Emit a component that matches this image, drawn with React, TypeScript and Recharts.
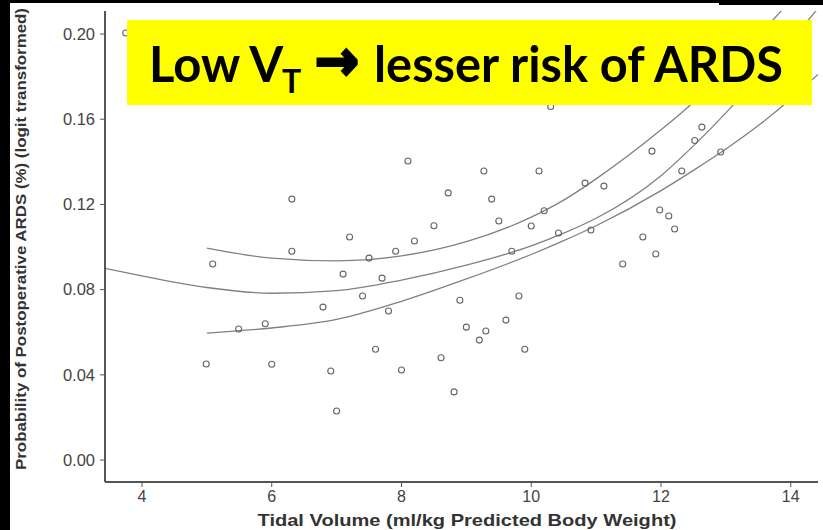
import { ComposedChart, XAxis, YAxis, Scatter, Line, Label } from 'recharts';

// observed patients: tidal volume (ml/kg PBW) and logit-transformed ARDS probability
const pointTv = [
  3.75, 4.99, 5.09, 5.49, 5.9, 6.0, 6.31, 6.31, 6.79, 6.91, 7.0, 7.1, 7.2, 7.4,
  7.5, 7.6, 7.7, 7.8, 7.91, 8.0, 8.1, 8.2, 8.5, 8.61, 8.72, 8.81, 8.9, 9.0, 9.2,
  9.3, 9.27, 9.39, 9.5, 9.61, 9.7, 9.81, 9.9, 10.0, 10.12, 10.2, 10.3, 10.42,
  10.83, 10.92, 11.12, 11.41, 11.72, 11.86, 11.92, 11.98, 12.12, 12.21, 12.32,
  12.52, 12.63, 12.92,
];
const pointProb = [
  0.2005, 0.0451, 0.092, 0.0615, 0.064, 0.045, 0.1225, 0.098, 0.0718, 0.0418,
  0.023, 0.0873, 0.1047, 0.077, 0.0948, 0.052, 0.0854, 0.07, 0.098, 0.0423,
  0.1404, 0.1028, 0.11, 0.048, 0.1254, 0.032, 0.075, 0.0624, 0.0563, 0.0606,
  0.1357, 0.1225, 0.1122, 0.0657, 0.098, 0.077, 0.052, 0.1099, 0.1357, 0.117,
  0.166, 0.1066, 0.13, 0.108, 0.1286, 0.092, 0.1047, 0.145, 0.0967, 0.1174,
  0.1146, 0.1085, 0.1357, 0.15, 0.1563, 0.1446,
];

// fitted curve
const fitTv = [3.43, 4, 5, 6, 7, 8, 9, 10, 10.5, 11, 12, 12.5, 13, 13.5, 14, 14.42];
const fitMid = [
  0.09, 0.0865, 0.081, 0.0783, 0.0795, 0.0845, 0.0915, 0.1005, 0.1065, 0.1135,
  0.1335, 0.1475, 0.163, 0.18, 0.197, 0.212,
];

// confidence band
const bandTv = [5, 6, 7, 8, 9, 10, 10.5, 11, 12, 12.5, 13, 13.5, 14, 14.42];
const bandUpper = [
  0.0995, 0.0948, 0.0935, 0.0958, 0.1025, 0.114, 0.122, 0.132, 0.155, 0.168,
  0.183, 0.199, 0.216, 0.231,
];
const bandLower = [
  0.0596, 0.062, 0.066, 0.0745, 0.085, 0.0965, 0.103, 0.11, 0.1265, 0.136,
  0.146, 0.157, 0.1695, 0.181,
];

const xTicks = [4, 6, 8, 10, 12, 14];
const yTicks = [0, 0.04, 0.08, 0.12, 0.16, 0.2];

const points = pointTv.map((x, i) => ({ x, y: pointProb[i] }));
const mid = fitTv.map((x, i) => ({ x, y: fitMid[i] }));
const upper = bandTv.map((x, i) => ({ x, y: bandUpper[i] }));
const lower = bandTv.map((x, i) => ({ x, y: bandLower[i] }));

const FONT = 'Arial, "Liberation Sans", sans-serif';
const HEAD_FONT = "Lato, 'Open Sans', sans-serif";
const AXIS = '#555';
const CURVE = '#808080';

function Dot(props: any) {
  const { cx, cy } = props;
  if (cx == null || cy == null) return null;
  return <circle cx={cx} cy={cy} r={3} fill="none" stroke="#666" strokeWidth={1.1} />;
}

const YTitle = () => (
  <text
    x={20}
    y={239}
    transform="rotate(-90 20 239)"
    textAnchor="middle"
    dominantBaseline="central"
    fontFamily={FONT}
    fontWeight="bold"
    fontSize={15}
    fill="#333"
    textLength={462}
    lengthAdjust="spacingAndGlyphs"
  >
    Probability of Postoperative ARDS (%) (logit transformed)
  </text>
);

const XTitle = () => (
  <text
    x={467}
    y={526}
    textAnchor="middle"
    fontFamily={FONT}
    fontWeight="bold"
    fontSize={17}
    fill="#333"
    textLength={419}
    lengthAdjust="spacingAndGlyphs"
  >
    Tidal Volume (ml/kg Predicted Body Weight)
  </text>
);

export default function App() {
  return (
    <div style={{ position: 'fixed', left: 0, top: 0, width: 823, height: 530, background: '#fff' }}>
      <ComposedChart width={823} height={530} margin={{ top: 11, right: 5, bottom: 0, left: 0 }}>
        <XAxis
          dataKey="x"
          type="number"
          domain={[3.43, 14.42]}
          ticks={xTicks}
          allowDataOverflow
          height={48}
          axisLine={{ stroke: AXIS, strokeWidth: 2 }}
          tickLine={{ stroke: AXIS }}
          tickSize={5}
          tickMargin={4}
          tick={{ fontFamily: FONT, fontSize: 16, fill: '#444' }}
        >
          <Label content={<XTitle />} />
        </XAxis>
        <YAxis
          type="number"
          domain={[-0.0103, 0.2108]}
          ticks={yTicks}
          allowDataOverflow
          width={105}
          tickFormatter={(v: number) => v.toFixed(2)}
          axisLine={{ stroke: AXIS, strokeWidth: 2 }}
          tickLine={{ stroke: AXIS }}
          tickSize={5}
          tickMargin={5}
          tick={{ fontFamily: FONT, fontSize: 16.5, fill: '#444' }}
        >
          <Label content={<YTitle />} />
        </YAxis>
        <XAxis
          xAxisId="top"
          orientation="top"
          type="number"
          domain={[0, 1]}
          height={0}
          tick={false}
          tickLine={false}
          axisLine={{ stroke: '#9a9a9a', strokeWidth: 2 }}
        />
        <YAxis
          yAxisId="right"
          orientation="right"
          type="number"
          domain={[0, 1]}
          width={0}
          tick={false}
          tickLine={false}
          axisLine={{ stroke: '#c4c4c4', strokeWidth: 1 }}
        />
        <Line data={upper} dataKey="y" type="monotone" stroke={CURVE} strokeWidth={1.3} dot={false} isAnimationActive={false} />
        <Line data={mid} dataKey="y" type="monotone" stroke={CURVE} strokeWidth={1.3} dot={false} isAnimationActive={false} />
        <Line data={lower} dataKey="y" type="monotone" stroke={CURVE} strokeWidth={1.3} dot={false} isAnimationActive={false} />
        <Scatter data={points} dataKey="y" shape={<Dot />} isAnimationActive={false} />
      </ComposedChart>

      {/* slide frame and headline box */}
      <svg
        width={823}
        height={530}
        style={{ position: 'absolute', left: 0, top: 0, pointerEvents: 'none' }}
      >
        <rect x={0} y={0} width={10} height={530} fill="#000" />
        <rect x={0} y={0} width={719} height={3} fill="#000" />
        <rect x={719} y={0} width={104} height={5} fill="#000" />
        <rect x={127} y={20} width={685} height={85} fill="#ffff00" />
        <text x={149} y={82} fontFamily={HEAD_FONT} fontWeight="bold" fontSize={49} fill="#000">
          Low V
        </text>
        <text x={282} y={93} fontFamily={HEAD_FONT} fontWeight="bold" fontSize={32} fill="#000">
          T
        </text>
        <text
          x={315}
          y={80}
          fontFamily="'DejaVu Sans', sans-serif"
          fontWeight="bold"
          fontSize={56}
          fill="#000"
          stroke="#000"
          strokeWidth={3}
          textLength={44}
          lengthAdjust="spacingAndGlyphs"
        >
          →
        </text>
        <text
          x={374}
          y={82}
          fontFamily={HEAD_FONT}
          fontWeight="bold"
          fontSize={49}
          fill="#000"
          textLength={409}
          lengthAdjust="spacingAndGlyphs"
        >
          lesser risk of ARDS
        </text>
      </svg>
    </div>
  );
}
